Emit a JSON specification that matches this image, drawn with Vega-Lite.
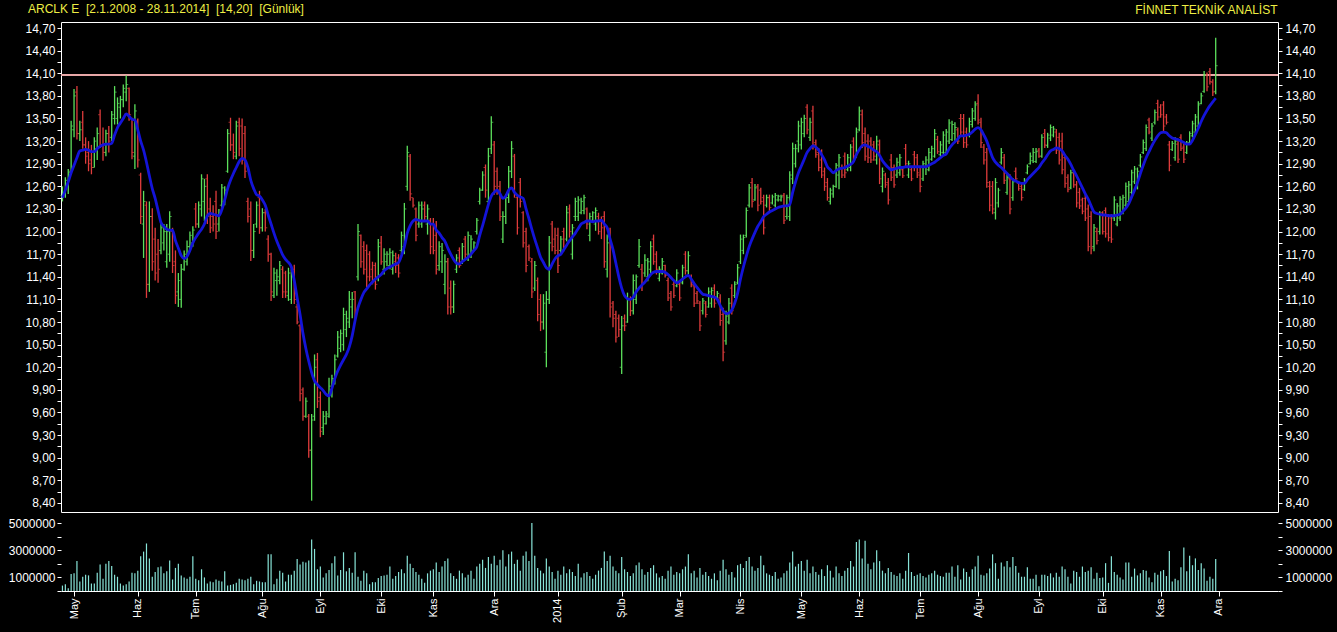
{
"$schema":"https://vega.github.io/schema/vega-lite/v6.json",
"background":"#000000",
"padding":{"left":0,"right":0,"top":2,"bottom":0},
"title":{"text":"FİNNET TEKNİK ANALİST","anchor":"end","frame":"bounds","dx":-61,"dy":14,"offset":0},
"config":{
 "view":{"stroke":null},
 "title":{"color":"#eeee44","font":"Liberation Sans","fontSize":12,"fontWeight":"normal"},
 "axis":{"labelColor":"#ffffff","tickColor":"#ffffff","domainColor":"#ffffff","grid":false,"labelFont":"Liberation Sans","labelFontSize":12,"title":null}
},
"spacing":1,
"datasets":{"p":[
{"d":"2013-04-25","o":12.48,"h":12.6,"l":12.4,"c":12.52,"v":400000,"m":12.45},
{"d":"2013-04-26","o":12.52,"h":12.72,"l":12.45,"c":12.68,"v":500000,"m":12.55},
{"d":"2013-04-29","o":12.62,"h":12.83,"l":12.5,"c":12.78,"v":200000,"m":12.66},
{"d":"2013-04-30","o":12.8,"h":13.47,"l":12.76,"c":13.4,"v":1250000,"m":12.78},
{"d":"2013-05-02","o":13.35,"h":13.89,"l":13.25,"c":13.8,"v":1300000,"m":12.88},
{"d":"2013-05-03","o":13.85,"h":13.93,"l":13.22,"c":13.3,"v":2200000,"m":12.98},
{"d":"2013-05-06","o":13.3,"h":13.47,"l":13.2,"c":13.35,"v":700000,"m":13.07},
{"d":"2013-05-07","o":13.45,"h":13.6,"l":13.1,"c":13.15,"v":1050000,"m":13.08},
{"d":"2013-05-08","o":13.15,"h":13.25,"l":12.9,"c":13.0,"v":1200000,"m":13.09},
{"d":"2013-05-09","o":13.05,"h":13.2,"l":12.8,"c":12.9,"v":1150000,"m":13.08},
{"d":"2013-05-10","o":12.95,"h":13.15,"l":12.76,"c":12.85,"v":550000,"m":13.06},
{"d":"2013-05-13","o":12.85,"h":13.25,"l":12.85,"c":13.2,"v":550000,"m":13.06},
{"d":"2013-05-14","o":13.1,"h":13.38,"l":12.95,"c":13.3,"v":1350000,"m":13.1},
{"d":"2013-05-15","o":13.55,"h":13.62,"l":13.11,"c":13.15,"v":1950000,"m":13.13},
{"d":"2013-05-16","o":13.15,"h":13.38,"l":12.94,"c":13.05,"v":900000,"m":13.15},
{"d":"2013-05-17","o":13.05,"h":13.35,"l":13.0,"c":13.3,"v":2000000,"m":13.16},
{"d":"2013-05-20","o":13.3,"h":13.4,"l":13.05,"c":13.2,"v":2200000,"m":13.16},
{"d":"2013-05-21","o":13.25,"h":13.6,"l":13.2,"c":13.55,"v":1850000,"m":13.17},
{"d":"2013-05-22","o":13.5,"h":13.93,"l":13.42,"c":13.85,"v":1200000,"m":13.28},
{"d":"2013-05-23","o":13.5,"h":13.78,"l":13.42,"c":13.7,"v":1050000,"m":13.38},
{"d":"2013-05-24","o":13.65,"h":13.8,"l":13.5,"c":13.75,"v":550000,"m":13.44},
{"d":"2013-05-27","o":13.75,"h":13.95,"l":13.65,"c":13.9,"v":400000,"m":13.5},
{"d":"2013-05-28","o":13.85,"h":14.07,"l":13.73,"c":13.95,"v":500000,"m":13.56},
{"d":"2013-05-29","o":13.9,"h":13.91,"l":13.47,"c":13.55,"v":700000,"m":13.53},
{"d":"2013-05-30","o":13.5,"h":13.51,"l":12.96,"c":13.05,"v":1350000,"m":13.49},
{"d":"2013-05-31","o":13.0,"h":13.69,"l":12.83,"c":13.6,"v":1300000,"m":13.48},
{"d":"2013-06-03","o":13.45,"h":13.5,"l":12.85,"c":12.95,"v":1500000,"m":13.35},
{"d":"2013-06-04","o":12.75,"h":12.78,"l":12.1,"c":12.2,"v":2550000,"m":13.2},
{"d":"2013-06-05","o":12.1,"h":12.54,"l":11.65,"c":12.4,"v":2900000,"m":13.08},
{"d":"2013-06-06","o":12.35,"h":12.4,"l":11.12,"c":11.3,"v":3500000,"m":12.92},
{"d":"2013-06-07","o":11.3,"h":12.4,"l":11.2,"c":12.2,"v":2400000,"m":12.74},
{"d":"2013-06-10","o":12.2,"h":12.31,"l":11.48,"c":11.6,"v":1050000,"m":12.57},
{"d":"2013-06-11","o":11.9,"h":12.05,"l":11.35,"c":11.45,"v":1400000,"m":12.44},
{"d":"2013-06-12","o":11.7,"h":11.9,"l":11.32,"c":11.5,"v":1750000,"m":12.28},
{"d":"2013-06-13","o":11.75,"h":12.14,"l":11.7,"c":12.05,"v":1800000,"m":12.12},
{"d":"2013-06-14","o":11.85,"h":12.1,"l":11.75,"c":12.0,"v":1300000,"m":12.07},
{"d":"2013-06-17","o":11.6,"h":12.1,"l":11.52,"c":12.0,"v":1450000,"m":12.03},
{"d":"2013-06-18","o":11.7,"h":12.27,"l":11.6,"c":12.2,"v":2250000,"m":12.02},
{"d":"2013-06-19","o":12.0,"h":12.05,"l":11.45,"c":11.55,"v":850000,"m":12.02},
{"d":"2013-06-20","o":11.6,"h":11.75,"l":11.04,"c":11.15,"v":1700000,"m":11.88},
{"d":"2013-06-21","o":11.2,"h":11.45,"l":11.0,"c":11.35,"v":2000000,"m":11.78},
{"d":"2013-06-24","o":11.1,"h":11.57,"l":10.99,"c":11.5,"v":1150000,"m":11.68},
{"d":"2013-06-25","o":11.5,"h":11.75,"l":11.48,"c":11.7,"v":1000000,"m":11.64},
{"d":"2013-06-26","o":11.6,"h":11.88,"l":11.55,"c":11.8,"v":900000,"m":11.67},
{"d":"2013-06-27","o":11.8,"h":12.0,"l":11.74,"c":11.95,"v":1050000,"m":11.75},
{"d":"2013-06-28","o":11.85,"h":12.07,"l":11.8,"c":12.02,"v":2550000,"m":11.85},
{"d":"2013-07-01","o":12.3,"h":12.38,"l":12.05,"c":12.1,"v":900000,"m":11.92},
{"d":"2013-07-02","o":12.1,"h":12.4,"l":12.05,"c":12.35,"v":800000,"m":11.98},
{"d":"2013-07-03","o":12.3,"h":12.76,"l":12.2,"c":12.7,"v":1600000,"m":12.03},
{"d":"2013-07-04","o":12.4,"h":12.7,"l":12.14,"c":12.6,"v":1000000,"m":12.1},
{"d":"2013-07-05","o":12.7,"h":12.76,"l":12.1,"c":12.2,"v":550000,"m":12.21},
{"d":"2013-07-08","o":12.3,"h":12.45,"l":11.98,"c":12.05,"v":700000,"m":12.24},
{"d":"2013-07-09","o":12.2,"h":12.35,"l":12.0,"c":12.1,"v":650000,"m":12.23},
{"d":"2013-07-10","o":12.4,"h":12.54,"l":11.9,"c":12.0,"v":850000,"m":12.22},
{"d":"2013-07-11","o":12.1,"h":12.3,"l":12.0,"c":12.25,"v":750000,"m":12.21},
{"d":"2013-07-12","o":12.35,"h":12.63,"l":12.32,"c":12.58,"v":700000,"m":12.29},
{"d":"2013-07-15","o":12.4,"h":12.6,"l":12.35,"c":12.55,"v":1450000,"m":12.42},
{"d":"2013-07-16","o":12.8,"h":13.36,"l":12.78,"c":13.3,"v":400000,"m":12.57},
{"d":"2013-07-17","o":13.45,"h":13.51,"l":13.07,"c":13.15,"v":450000,"m":12.68},
{"d":"2013-07-18","o":13.15,"h":13.3,"l":12.96,"c":13.05,"v":500000,"m":12.77},
{"d":"2013-07-19","o":13.0,"h":13.47,"l":12.96,"c":13.4,"v":600000,"m":12.85},
{"d":"2013-07-22","o":13.45,"h":13.51,"l":13.0,"c":13.1,"v":900000,"m":12.93},
{"d":"2013-07-23","o":13.4,"h":13.5,"l":12.89,"c":12.95,"v":850000,"m":12.97},
{"d":"2013-07-24","o":13.3,"h":13.4,"l":12.71,"c":12.8,"v":800000,"m":12.95},
{"d":"2013-07-25","o":12.4,"h":12.45,"l":12.12,"c":12.2,"v":900000,"m":12.85},
{"d":"2013-07-26","o":12.3,"h":12.4,"l":11.61,"c":11.75,"v":1050000,"m":12.68},
{"d":"2013-07-29","o":11.75,"h":12.1,"l":11.65,"c":12.0,"v":500000,"m":12.57},
{"d":"2013-07-30","o":12.1,"h":12.4,"l":12.05,"c":12.35,"v":750000,"m":12.49},
{"d":"2013-07-31","o":12.45,"h":12.54,"l":11.97,"c":12.05,"v":700000,"m":12.47},
{"d":"2013-08-01","o":12.05,"h":12.31,"l":12.0,"c":12.25,"v":650000,"m":12.42},
{"d":"2013-08-02","o":12.25,"h":12.3,"l":12.0,"c":12.05,"v":650000,"m":12.35},
{"d":"2013-08-05","o":11.9,"h":11.95,"l":11.6,"c":11.7,"v":2700000,"m":12.22},
{"d":"2013-08-06","o":11.7,"h":11.72,"l":11.08,"c":11.2,"v":2700000,"m":12.1},
{"d":"2013-08-07","o":11.15,"h":11.52,"l":11.12,"c":11.45,"v":500000,"m":11.98},
{"d":"2013-08-08","o":11.35,"h":11.5,"l":11.15,"c":11.4,"v":900000,"m":11.87},
{"d":"2013-08-12","o":11.35,"h":11.61,"l":11.3,"c":11.55,"v":1500000,"m":11.78},
{"d":"2013-08-13","o":11.5,"h":11.54,"l":11.12,"c":11.2,"v":1350000,"m":11.69},
{"d":"2013-08-14","o":11.45,"h":11.48,"l":11.12,"c":11.2,"v":700000,"m":11.63},
{"d":"2013-08-15","o":11.15,"h":11.52,"l":11.08,"c":11.45,"v":1200000,"m":11.59},
{"d":"2013-08-16","o":11.1,"h":11.5,"l":11.04,"c":11.4,"v":1200000,"m":11.53},
{"d":"2013-08-19","o":11.5,"h":11.56,"l":11.04,"c":11.1,"v":1500000,"m":11.35},
{"d":"2013-08-20","o":11.0,"h":11.04,"l":10.77,"c":10.8,"v":2350000,"m":11.12},
{"d":"2013-08-21","o":10.75,"h":10.77,"l":9.75,"c":9.85,"v":1950000,"m":10.9},
{"d":"2013-08-22","o":9.9,"h":9.93,"l":9.49,"c":9.55,"v":2150000,"m":10.65},
{"d":"2013-08-23","o":9.55,"h":9.8,"l":9.53,"c":9.75,"v":2100000,"m":10.45},
{"d":"2013-08-26","o":9.55,"h":9.58,"l":9.0,"c":9.1,"v":2250000,"m":10.28},
{"d":"2013-08-27","o":9.1,"h":9.58,"l":8.43,"c":9.5,"v":3800000,"m":10.13},
{"d":"2013-08-28","o":9.55,"h":10.37,"l":9.49,"c":10.2,"v":3100000,"m":10.02},
{"d":"2013-08-29","o":10.3,"h":10.39,"l":9.66,"c":9.75,"v":1600000,"m":9.97},
{"d":"2013-09-02","o":9.8,"h":9.88,"l":9.27,"c":9.35,"v":1800000,"m":9.93},
{"d":"2013-09-03","o":9.4,"h":9.62,"l":9.3,"c":9.55,"v":1000000,"m":9.89},
{"d":"2013-09-04","o":9.45,"h":9.62,"l":9.44,"c":9.58,"v":1300000,"m":9.84},
{"d":"2013-09-05","o":9.55,"h":10.06,"l":9.53,"c":9.95,"v":1550000,"m":9.82},
{"d":"2013-09-06","o":9.9,"h":10.1,"l":9.8,"c":10.05,"v":2050000,"m":9.92},
{"d":"2013-09-09","o":10.0,"h":10.37,"l":9.97,"c":10.3,"v":2550000,"m":10.05},
{"d":"2013-09-10","o":10.35,"h":10.68,"l":10.33,"c":10.6,"v":1150000,"m":10.15},
{"d":"2013-09-11","o":10.45,"h":10.7,"l":10.4,"c":10.65,"v":1550000,"m":10.23},
{"d":"2013-09-12","o":10.5,"h":10.99,"l":10.42,"c":10.9,"v":2850000,"m":10.3},
{"d":"2013-09-13","o":10.7,"h":10.95,"l":10.6,"c":10.85,"v":1450000,"m":10.37},
{"d":"2013-09-16","o":10.8,"h":11.21,"l":10.72,"c":11.1,"v":1700000,"m":10.47},
{"d":"2013-09-17","o":11.0,"h":11.2,"l":10.85,"c":11.1,"v":1350000,"m":10.62},
{"d":"2013-09-18","o":11.2,"h":11.21,"l":10.81,"c":10.9,"v":2850000,"m":10.82},
{"d":"2013-09-19","o":11.4,"h":12.1,"l":11.35,"c":12.0,"v":1050000,"m":10.99},
{"d":"2013-09-20","o":11.95,"h":11.96,"l":11.52,"c":11.6,"v":750000,"m":11.1},
{"d":"2013-09-23","o":11.8,"h":11.87,"l":11.43,"c":11.5,"v":1500000,"m":11.19},
{"d":"2013-09-24","o":11.75,"h":11.83,"l":11.26,"c":11.4,"v":1300000,"m":11.24},
{"d":"2013-09-25","o":11.7,"h":11.74,"l":11.34,"c":11.4,"v":500000,"m":11.29},
{"d":"2013-09-26","o":11.5,"h":11.6,"l":11.3,"c":11.35,"v":650000,"m":11.33},
{"d":"2013-09-27","o":11.55,"h":11.59,"l":11.23,"c":11.3,"v":650000,"m":11.37},
{"d":"2013-09-30","o":11.4,"h":11.9,"l":11.34,"c":11.8,"v":950000,"m":11.4},
{"d":"2013-10-01","o":11.85,"h":11.94,"l":11.56,"c":11.6,"v":1100000,"m":11.43},
{"d":"2013-10-02","o":11.5,"h":11.78,"l":11.43,"c":11.7,"v":1150000,"m":11.48},
{"d":"2013-10-03","o":11.6,"h":11.74,"l":11.54,"c":11.7,"v":1200000,"m":11.51},
{"d":"2013-10-04","o":11.55,"h":11.78,"l":11.5,"c":11.72,"v":1800000,"m":11.53},
{"d":"2013-10-07","o":11.5,"h":11.75,"l":11.43,"c":11.68,"v":900000,"m":11.55},
{"d":"2013-10-08","o":11.6,"h":11.72,"l":11.45,"c":11.55,"v":1100000,"m":11.57},
{"d":"2013-10-09","o":11.65,"h":11.7,"l":11.39,"c":11.45,"v":1400000,"m":11.59},
{"d":"2013-10-10","o":11.75,"h":12.0,"l":11.7,"c":11.95,"v":1600000,"m":11.68},
{"d":"2013-10-11","o":11.8,"h":12.38,"l":11.7,"c":12.3,"v":1300000,"m":11.8},
{"d":"2013-10-14","o":12.6,"h":13.14,"l":12.54,"c":13.05,"v":2600000,"m":11.98},
{"d":"2013-10-21","o":13.0,"h":13.03,"l":12.41,"c":12.5,"v":2000000,"m":12.08},
{"d":"2013-10-22","o":12.45,"h":12.45,"l":12.32,"c":12.35,"v":1700000,"m":12.14},
{"d":"2013-10-23","o":12.3,"h":12.32,"l":11.87,"c":11.95,"v":1400000,"m":12.16},
{"d":"2013-10-24","o":12.1,"h":12.4,"l":12.05,"c":12.35,"v":1200000,"m":12.15},
{"d":"2013-10-25","o":12.1,"h":12.4,"l":12.05,"c":12.3,"v":900000,"m":12.14},
{"d":"2013-10-28","o":12.35,"h":12.4,"l":12.14,"c":12.2,"v":600000,"m":12.14},
{"d":"2013-10-30","o":12.1,"h":12.36,"l":11.96,"c":12.3,"v":1300000,"m":12.14},
{"d":"2013-10-31","o":12.15,"h":12.18,"l":11.7,"c":11.8,"v":1500000,"m":12.1},
{"d":"2013-11-01","o":12.1,"h":12.18,"l":11.7,"c":11.75,"v":1600000,"m":12.1},
{"d":"2013-11-04","o":11.95,"h":12.14,"l":11.43,"c":11.5,"v":2100000,"m":12.02},
{"d":"2013-11-05","o":11.55,"h":11.87,"l":11.48,"c":11.8,"v":1400000,"m":11.98},
{"d":"2013-11-06","o":11.6,"h":11.85,"l":11.45,"c":11.75,"v":1800000,"m":11.92},
{"d":"2013-11-07","o":11.3,"h":11.7,"l":11.17,"c":11.6,"v":2200000,"m":11.87},
{"d":"2013-11-08","o":11.6,"h":11.65,"l":10.9,"c":11.0,"v":2400000,"m":11.78},
{"d":"2013-11-11","o":11.25,"h":11.35,"l":10.9,"c":11.0,"v":1300000,"m":11.7},
{"d":"2013-11-12","o":11.0,"h":11.35,"l":10.92,"c":11.3,"v":1100000,"m":11.63},
{"d":"2013-11-13","o":11.5,"h":11.7,"l":11.45,"c":11.65,"v":900000,"m":11.58},
{"d":"2013-11-14","o":11.75,"h":11.79,"l":11.52,"c":11.55,"v":1500000,"m":11.57},
{"d":"2013-11-15","o":11.6,"h":11.85,"l":11.57,"c":11.8,"v":1300000,"m":11.6},
{"d":"2013-11-18","o":11.9,"h":11.94,"l":11.63,"c":11.7,"v":1000000,"m":11.63},
{"d":"2013-11-19","o":11.65,"h":12.0,"l":11.61,"c":11.95,"v":1200000,"m":11.66},
{"d":"2013-11-20","o":11.7,"h":11.95,"l":11.65,"c":11.9,"v":1500000,"m":11.7},
{"d":"2013-11-21","o":11.75,"h":11.87,"l":11.74,"c":11.85,"v":900000,"m":11.75},
{"d":"2013-11-22","o":12.0,"h":12.18,"l":11.96,"c":12.15,"v":1800000,"m":11.8},
{"d":"2013-11-25","o":12.4,"h":12.58,"l":12.36,"c":12.55,"v":2000000,"m":11.95},
{"d":"2013-11-26","o":12.55,"h":12.8,"l":12.54,"c":12.75,"v":2300000,"m":12.08},
{"d":"2013-11-27","o":12.85,"h":12.89,"l":12.45,"c":12.55,"v":1700000,"m":12.22},
{"d":"2013-11-28","o":12.4,"h":13.11,"l":12.38,"c":13.0,"v":2500000,"m":12.36},
{"d":"2013-11-29","o":13.1,"h":13.53,"l":13.03,"c":13.45,"v":2000000,"m":12.47},
{"d":"2013-12-02","o":13.15,"h":13.2,"l":12.49,"c":12.6,"v":2600000,"m":12.52},
{"d":"2013-12-03","o":12.8,"h":12.85,"l":12.49,"c":12.55,"v":1900000,"m":12.55},
{"d":"2013-12-04","o":12.6,"h":12.67,"l":12.14,"c":12.2,"v":2300000,"m":12.5},
{"d":"2013-12-05","o":11.9,"h":12.27,"l":11.85,"c":12.2,"v":3000000,"m":12.44},
{"d":"2013-12-06","o":12.2,"h":12.5,"l":12.1,"c":12.45,"v":1800000,"m":12.47},
{"d":"2013-12-09","o":12.45,"h":12.87,"l":12.38,"c":12.8,"v":2700000,"m":12.55},
{"d":"2013-12-10","o":12.8,"h":13.2,"l":12.71,"c":13.1,"v":2900000,"m":12.58},
{"d":"2013-12-11","o":13.0,"h":13.03,"l":12.45,"c":12.5,"v":2000000,"m":12.52},
{"d":"2013-12-12","o":12.45,"h":12.49,"l":11.96,"c":12.05,"v":2300000,"m":12.48},
{"d":"2013-12-13","o":12.65,"h":12.71,"l":12.32,"c":12.4,"v":1500000,"m":12.46},
{"d":"2013-12-16","o":12.25,"h":12.27,"l":11.79,"c":11.85,"v":2600000,"m":12.44},
{"d":"2013-12-17","o":12.0,"h":12.05,"l":11.46,"c":11.55,"v":2900000,"m":12.3},
{"d":"2013-12-18","o":11.8,"h":11.83,"l":11.61,"c":11.65,"v":2200000,"m":12.17},
{"d":"2013-12-19","o":11.6,"h":11.65,"l":11.12,"c":11.2,"v":5000000,"m":12.03},
{"d":"2013-12-20","o":11.25,"h":11.61,"l":11.21,"c":11.55,"v":2600000,"m":11.9},
{"d":"2013-12-23","o":11.35,"h":11.39,"l":10.81,"c":10.9,"v":1700000,"m":11.78},
{"d":"2013-12-24","o":11.1,"h":11.17,"l":10.68,"c":10.8,"v":1500000,"m":11.66},
{"d":"2013-12-25","o":10.8,"h":11.17,"l":10.7,"c":11.05,"v":1300000,"m":11.59},
{"d":"2013-12-26","o":10.4,"h":11.21,"l":10.2,"c":11.1,"v":2400000,"m":11.52},
{"d":"2013-12-27","o":11.1,"h":11.94,"l":11.04,"c":11.85,"v":1800000,"m":11.5},
{"d":"2013-12-30","o":12.1,"h":12.14,"l":11.74,"c":11.8,"v":1400000,"m":11.57},
{"d":"2013-12-31","o":11.9,"h":12.05,"l":11.7,"c":11.75,"v":900000,"m":11.64},
{"d":"2014-01-02","o":11.95,"h":12.05,"l":11.45,"c":11.55,"v":1500000,"m":11.68},
{"d":"2014-01-03","o":11.75,"h":11.94,"l":11.7,"c":11.9,"v":1200000,"m":11.7},
{"d":"2014-01-06","o":12.0,"h":12.05,"l":11.74,"c":11.8,"v":1800000,"m":11.76},
{"d":"2014-01-07","o":11.9,"h":12.34,"l":11.87,"c":12.25,"v":1300000,"m":11.82},
{"d":"2014-01-08","o":12.3,"h":12.36,"l":11.92,"c":12.0,"v":1600000,"m":11.88},
{"d":"2014-01-09","o":11.7,"h":12.1,"l":11.63,"c":12.05,"v":1400000,"m":11.93},
{"d":"2014-01-10","o":12.2,"h":12.45,"l":12.14,"c":12.4,"v":1100000,"m":11.98},
{"d":"2014-01-13","o":12.2,"h":12.47,"l":12.14,"c":12.42,"v":2000000,"m":12.04},
{"d":"2014-01-14","o":12.25,"h":12.45,"l":12.23,"c":12.4,"v":1000000,"m":12.1},
{"d":"2014-01-15","o":12.28,"h":12.49,"l":12.23,"c":12.45,"v":1300000,"m":12.12},
{"d":"2014-01-16","o":12.3,"h":12.32,"l":12.03,"c":12.1,"v":1400000,"m":12.14},
{"d":"2014-01-17","o":11.95,"h":12.25,"l":11.87,"c":12.2,"v":1100000,"m":12.14},
{"d":"2014-01-20","o":12.15,"h":12.27,"l":12.12,"c":12.25,"v":900000,"m":12.13},
{"d":"2014-01-21","o":12.1,"h":12.32,"l":12.01,"c":12.28,"v":1200000,"m":12.14},
{"d":"2014-01-22","o":12.2,"h":12.25,"l":11.96,"c":12.0,"v":1500000,"m":12.14},
{"d":"2014-01-23","o":12.15,"h":12.2,"l":11.9,"c":12.05,"v":1700000,"m":12.15},
{"d":"2014-01-24","o":12.2,"h":12.27,"l":11.52,"c":11.6,"v":2900000,"m":12.1},
{"d":"2014-01-27","o":11.5,"h":11.96,"l":11.39,"c":11.85,"v":2200000,"m":12.05},
{"d":"2014-01-28","o":11.95,"h":12.05,"l":10.86,"c":11.0,"v":2600000,"m":11.9},
{"d":"2014-01-29","o":11.05,"h":11.08,"l":10.73,"c":10.85,"v":1800000,"m":11.76},
{"d":"2014-01-30","o":10.9,"h":10.95,"l":10.53,"c":10.6,"v":1500000,"m":11.58},
{"d":"2014-01-31","o":10.85,"h":10.9,"l":10.6,"c":10.7,"v":1300000,"m":11.4},
{"d":"2014-02-03","o":10.2,"h":10.88,"l":10.11,"c":10.75,"v":2500000,"m":11.25},
{"d":"2014-02-04","o":10.85,"h":10.9,"l":10.68,"c":10.75,"v":1600000,"m":11.15},
{"d":"2014-02-05","o":10.8,"h":11.19,"l":10.79,"c":11.1,"v":1400000,"m":11.11},
{"d":"2014-02-06","o":11.1,"h":11.14,"l":10.88,"c":10.95,"v":1100000,"m":11.1},
{"d":"2014-02-07","o":10.95,"h":11.43,"l":10.9,"c":11.35,"v":1300000,"m":11.13},
{"d":"2014-02-10","o":11.1,"h":11.43,"l":11.04,"c":11.4,"v":1900000,"m":11.2},
{"d":"2014-02-11","o":11.55,"h":11.9,"l":11.52,"c":11.8,"v":2100000,"m":11.25},
{"d":"2014-02-12","o":11.5,"h":11.57,"l":11.21,"c":11.3,"v":1600000,"m":11.29},
{"d":"2014-02-13","o":11.45,"h":11.7,"l":11.4,"c":11.62,"v":1200000,"m":11.33},
{"d":"2014-02-14","o":11.4,"h":11.65,"l":11.34,"c":11.6,"v":1400000,"m":11.38},
{"d":"2014-02-17","o":11.5,"h":11.87,"l":11.43,"c":11.8,"v":1700000,"m":11.43},
{"d":"2014-02-18","o":11.9,"h":11.96,"l":11.56,"c":11.6,"v":1900000,"m":11.46},
{"d":"2014-02-19","o":11.7,"h":11.74,"l":11.43,"c":11.5,"v":1300000,"m":11.47},
{"d":"2014-02-20","o":11.38,"h":11.54,"l":11.34,"c":11.5,"v":1000000,"m":11.47},
{"d":"2014-02-21","o":11.45,"h":11.65,"l":11.43,"c":11.6,"v":1100000,"m":11.47},
{"d":"2014-02-24","o":11.55,"h":11.56,"l":11.39,"c":11.42,"v":900000,"m":11.46},
{"d":"2014-02-25","o":11.35,"h":11.39,"l":11.08,"c":11.12,"v":1500000,"m":11.43},
{"d":"2014-02-26","o":11.18,"h":11.21,"l":10.95,"c":11.0,"v":1800000,"m":11.39},
{"d":"2014-02-27","o":11.3,"h":11.34,"l":11.12,"c":11.15,"v":1200000,"m":11.35},
{"d":"2014-02-28","o":11.28,"h":11.5,"l":11.26,"c":11.45,"v":1400000,"m":11.32},
{"d":"2014-03-03","o":11.3,"h":11.34,"l":11.08,"c":11.12,"v":1300000,"m":11.34},
{"d":"2014-03-04","o":11.32,"h":11.56,"l":11.3,"c":11.52,"v":1600000,"m":11.37},
{"d":"2014-03-05","o":11.7,"h":11.74,"l":11.43,"c":11.48,"v":1800000,"m":11.4},
{"d":"2014-03-06","o":11.48,"h":11.74,"l":11.43,"c":11.68,"v":2700000,"m":11.42},
{"d":"2014-03-07","o":11.4,"h":11.43,"l":11.26,"c":11.3,"v":1300000,"m":11.37},
{"d":"2014-03-10","o":11.28,"h":11.3,"l":11.0,"c":11.05,"v":1500000,"m":11.31},
{"d":"2014-03-11","o":11.18,"h":11.21,"l":11.04,"c":11.08,"v":1000000,"m":11.26},
{"d":"2014-03-12","o":11.05,"h":11.08,"l":10.68,"c":10.75,"v":1700000,"m":11.21},
{"d":"2014-03-13","o":10.95,"h":11.12,"l":10.9,"c":11.08,"v":1200000,"m":11.17},
{"d":"2014-03-14","o":11.05,"h":11.08,"l":10.86,"c":10.9,"v":1400000,"m":11.16},
{"d":"2014-03-17","o":11.0,"h":11.26,"l":10.99,"c":11.2,"v":1100000,"m":11.15},
{"d":"2014-03-18","o":11.05,"h":11.26,"l":10.99,"c":11.22,"v":900000,"m":11.14},
{"d":"2014-03-19","o":11.25,"h":11.3,"l":10.99,"c":11.05,"v":1300000,"m":11.13},
{"d":"2014-03-20","o":11.13,"h":11.21,"l":11.12,"c":11.18,"v":800000,"m":11.1},
{"d":"2014-03-21","o":11.12,"h":11.17,"l":10.75,"c":10.82,"v":1500000,"m":11.02},
{"d":"2014-03-24","o":10.9,"h":10.99,"l":10.28,"c":10.4,"v":2300000,"m":10.95},
{"d":"2014-03-25","o":10.55,"h":10.95,"l":10.5,"c":10.88,"v":1600000,"m":10.91},
{"d":"2014-03-26","o":10.8,"h":11.12,"l":10.77,"c":11.05,"v":1200000,"m":10.92},
{"d":"2014-03-27","o":11.25,"h":11.3,"l":10.9,"c":10.95,"v":1400000,"m":10.96},
{"d":"2014-03-28","o":11.15,"h":11.34,"l":11.12,"c":11.3,"v":1000000,"m":11.05},
{"d":"2014-03-31","o":11.32,"h":11.57,"l":11.3,"c":11.52,"v":1900000,"m":11.18},
{"d":"2014-04-01","o":11.6,"h":11.96,"l":11.57,"c":11.9,"v":2000000,"m":11.37},
{"d":"2014-04-02","o":11.75,"h":11.96,"l":11.7,"c":11.92,"v":1700000,"m":11.53},
{"d":"2014-04-03","o":11.95,"h":12.32,"l":11.92,"c":12.28,"v":2200000,"m":11.67},
{"d":"2014-04-04","o":12.35,"h":12.63,"l":12.32,"c":12.58,"v":2500000,"m":11.8},
{"d":"2014-04-07","o":12.65,"h":12.71,"l":12.32,"c":12.4,"v":1800000,"m":11.9},
{"d":"2014-04-08","o":12.42,"h":12.63,"l":12.41,"c":12.58,"v":1500000,"m":11.99},
{"d":"2014-04-09","o":12.6,"h":12.63,"l":12.27,"c":12.35,"v":1700000,"m":12.07},
{"d":"2014-04-10","o":12.55,"h":12.58,"l":12.36,"c":12.4,"v":2600000,"m":12.13},
{"d":"2014-04-11","o":12.45,"h":12.49,"l":11.96,"c":12.05,"v":1900000,"m":12.2},
{"d":"2014-04-14","o":12.35,"h":12.49,"l":12.32,"c":12.45,"v":1300000,"m":12.23},
{"d":"2014-04-15","o":12.45,"h":12.49,"l":12.27,"c":12.32,"v":1200000,"m":12.26},
{"d":"2014-04-16","o":12.38,"h":12.49,"l":12.36,"c":12.46,"v":1100000,"m":12.28},
{"d":"2014-04-17","o":12.35,"h":12.51,"l":12.32,"c":12.48,"v":1400000,"m":12.3},
{"d":"2014-04-18","o":12.42,"h":12.49,"l":12.4,"c":12.47,"v":900000,"m":12.32},
{"d":"2014-04-21","o":12.42,"h":12.49,"l":12.4,"c":12.46,"v":1000000,"m":12.33},
{"d":"2014-04-22","o":12.48,"h":12.51,"l":12.1,"c":12.15,"v":1300000,"m":12.34},
{"d":"2014-04-24","o":12.2,"h":12.49,"l":12.16,"c":12.45,"v":1500000,"m":12.34},
{"d":"2014-04-25","o":12.2,"h":12.8,"l":12.14,"c":12.75,"v":2100000,"m":12.36},
{"d":"2014-04-28","o":12.7,"h":13.18,"l":12.63,"c":13.1,"v":2900000,"m":12.52},
{"d":"2014-04-29","o":12.9,"h":13.16,"l":12.85,"c":13.1,"v":1800000,"m":12.66},
{"d":"2014-04-30","o":13.2,"h":13.47,"l":13.05,"c":13.4,"v":2000000,"m":12.78},
{"d":"2014-05-02","o":13.15,"h":13.51,"l":13.09,"c":13.45,"v":2200000,"m":12.87},
{"d":"2014-05-05","o":13.3,"h":13.55,"l":13.25,"c":13.5,"v":1500000,"m":12.96},
{"d":"2014-05-06","o":13.65,"h":13.69,"l":13.29,"c":13.35,"v":2300000,"m":13.05},
{"d":"2014-05-07","o":13.25,"h":13.51,"l":13.2,"c":13.45,"v":1300000,"m":13.1},
{"d":"2014-05-08","o":13.6,"h":13.67,"l":13.09,"c":13.15,"v":1800000,"m":13.14},
{"d":"2014-05-09","o":13.18,"h":13.22,"l":12.98,"c":13.02,"v":1400000,"m":13.12},
{"d":"2014-05-12","o":13.05,"h":13.11,"l":12.8,"c":12.85,"v":1200000,"m":13.08},
{"d":"2014-05-13","o":12.95,"h":13.09,"l":12.71,"c":12.75,"v":1600000,"m":13.02},
{"d":"2014-05-14","o":12.8,"h":12.85,"l":12.54,"c":12.6,"v":1100000,"m":12.95},
{"d":"2014-05-15","o":12.65,"h":12.71,"l":12.41,"c":12.45,"v":1900000,"m":12.86},
{"d":"2014-05-16","o":12.4,"h":12.58,"l":12.36,"c":12.55,"v":1500000,"m":12.82},
{"d":"2014-05-20","o":12.5,"h":12.62,"l":12.45,"c":12.6,"v":1000000,"m":12.78},
{"d":"2014-05-21","o":12.6,"h":12.91,"l":12.58,"c":12.88,"v":1800000,"m":12.81},
{"d":"2014-05-22","o":12.75,"h":13.03,"l":12.56,"c":12.98,"v":1300000,"m":12.83},
{"d":"2014-05-23","o":12.85,"h":12.89,"l":12.71,"c":12.75,"v":1100000,"m":12.84},
{"d":"2014-05-26","o":13.0,"h":13.05,"l":12.71,"c":12.78,"v":1500000,"m":12.85},
{"d":"2014-05-27","o":12.82,"h":13.03,"l":12.8,"c":12.98,"v":1700000,"m":12.87},
{"d":"2014-05-28","o":12.85,"h":13.16,"l":12.8,"c":13.12,"v":2200000,"m":12.89},
{"d":"2014-05-29","o":13.2,"h":13.25,"l":12.94,"c":13.0,"v":1800000,"m":12.93},
{"d":"2014-05-30","o":13.0,"h":13.38,"l":12.98,"c":13.32,"v":3600000,"m":13.02},
{"d":"2014-06-02","o":13.35,"h":13.66,"l":13.33,"c":13.6,"v":3800000,"m":13.09},
{"d":"2014-06-03","o":13.55,"h":13.62,"l":13.11,"c":13.18,"v":2400000,"m":13.14},
{"d":"2014-06-04","o":13.3,"h":13.38,"l":12.94,"c":13.0,"v":3700000,"m":13.15},
{"d":"2014-06-05","o":13.2,"h":13.29,"l":12.91,"c":12.98,"v":2000000,"m":13.13},
{"d":"2014-06-06","o":13.2,"h":13.25,"l":12.91,"c":12.95,"v":1600000,"m":13.11},
{"d":"2014-06-09","o":13.15,"h":13.2,"l":12.94,"c":13.0,"v":2100000,"m":13.08},
{"d":"2014-06-10","o":12.95,"h":13.27,"l":12.89,"c":13.2,"v":3000000,"m":13.06},
{"d":"2014-06-11","o":13.15,"h":13.22,"l":12.63,"c":12.7,"v":2200000,"m":13.01},
{"d":"2014-06-12","o":12.6,"h":12.85,"l":12.52,"c":12.8,"v":1500000,"m":12.94},
{"d":"2014-06-13","o":12.75,"h":12.78,"l":12.58,"c":12.62,"v":1300000,"m":12.89},
{"d":"2014-06-16","o":12.65,"h":12.71,"l":12.36,"c":12.42,"v":1700000,"m":12.85},
{"d":"2014-06-17","o":12.95,"h":13.03,"l":12.67,"c":12.72,"v":1400000,"m":12.82},
{"d":"2014-06-18","o":12.85,"h":12.89,"l":12.58,"c":12.62,"v":1200000,"m":12.83},
{"d":"2014-06-19","o":12.75,"h":12.98,"l":12.71,"c":12.92,"v":1100000,"m":12.84},
{"d":"2014-06-20","o":12.78,"h":13.03,"l":12.74,"c":12.98,"v":1300000,"m":12.85},
{"d":"2014-06-23","o":12.82,"h":12.85,"l":12.71,"c":12.74,"v":900000,"m":12.85},
{"d":"2014-06-24","o":13.1,"h":13.16,"l":12.85,"c":12.9,"v":1500000,"m":12.86},
{"d":"2014-06-25","o":12.75,"h":12.94,"l":12.71,"c":12.9,"v":2800000,"m":12.86},
{"d":"2014-06-26","o":12.82,"h":12.85,"l":12.67,"c":12.7,"v":1400000,"m":12.86},
{"d":"2014-06-27","o":13.02,"h":13.07,"l":12.8,"c":12.85,"v":1100000,"m":12.86},
{"d":"2014-06-30","o":12.98,"h":13.03,"l":12.71,"c":12.78,"v":1200000,"m":12.86},
{"d":"2014-07-01","o":12.75,"h":12.85,"l":12.52,"c":12.6,"v":1300000,"m":12.86},
{"d":"2014-07-02","o":12.7,"h":12.94,"l":12.67,"c":12.9,"v":1100000,"m":12.86},
{"d":"2014-07-03","o":12.85,"h":13.0,"l":12.75,"c":12.95,"v":1000000,"m":12.86},
{"d":"2014-07-04","o":12.82,"h":13.11,"l":12.8,"c":13.05,"v":1200000,"m":12.88},
{"d":"2014-07-07","o":12.96,"h":13.14,"l":12.94,"c":13.1,"v":1300000,"m":12.9},
{"d":"2014-07-08","o":13.0,"h":13.36,"l":12.98,"c":13.3,"v":1500000,"m":12.92},
{"d":"2014-07-09","o":13.22,"h":13.27,"l":13.03,"c":13.06,"v":1200000,"m":12.95},
{"d":"2014-07-10","o":13.02,"h":13.2,"l":13.0,"c":13.15,"v":1100000,"m":12.98},
{"d":"2014-07-11","o":13.05,"h":13.33,"l":13.03,"c":13.28,"v":1050000,"m":13.01},
{"d":"2014-07-14","o":13.05,"h":13.36,"l":13.03,"c":13.32,"v":1350000,"m":13.03},
{"d":"2014-07-15","o":13.2,"h":13.49,"l":13.16,"c":13.44,"v":1350000,"m":13.1},
{"d":"2014-07-16","o":13.22,"h":13.47,"l":13.2,"c":13.42,"v":1800000,"m":13.15},
{"d":"2014-07-17","o":13.3,"h":13.45,"l":13.2,"c":13.38,"v":1050000,"m":13.19},
{"d":"2014-07-18","o":13.35,"h":13.38,"l":13.16,"c":13.2,"v":1900000,"m":13.23},
{"d":"2014-07-21","o":13.5,"h":13.56,"l":13.27,"c":13.32,"v":850000,"m":13.27},
{"d":"2014-07-22","o":13.5,"h":13.56,"l":13.11,"c":13.18,"v":1650000,"m":13.27},
{"d":"2014-07-23","o":13.32,"h":13.38,"l":13.11,"c":13.15,"v":1400000,"m":13.28},
{"d":"2014-07-24","o":13.28,"h":13.51,"l":13.25,"c":13.46,"v":1050000,"m":13.29},
{"d":"2014-07-25","o":13.42,"h":13.64,"l":13.38,"c":13.6,"v":1600000,"m":13.32},
{"d":"2014-07-31","o":13.5,"h":13.73,"l":13.47,"c":13.68,"v":1800000,"m":13.36},
{"d":"2014-08-01","o":13.7,"h":13.82,"l":13.42,"c":13.48,"v":2600000,"m":13.38},
{"d":"2014-08-04","o":13.45,"h":13.51,"l":13.11,"c":13.18,"v":1200000,"m":13.35},
{"d":"2014-08-05","o":13.12,"h":13.16,"l":12.89,"c":12.95,"v":1150000,"m":13.28},
{"d":"2014-08-06","o":13.05,"h":13.11,"l":12.58,"c":12.65,"v":1300000,"m":13.2},
{"d":"2014-08-07","o":12.6,"h":12.67,"l":12.27,"c":12.35,"v":1650000,"m":13.09},
{"d":"2014-08-08","o":12.6,"h":12.67,"l":12.23,"c":12.3,"v":2700000,"m":12.98},
{"d":"2014-08-11","o":12.25,"h":12.71,"l":12.16,"c":12.65,"v":2050000,"m":12.92},
{"d":"2014-08-12","o":12.38,"h":12.58,"l":12.32,"c":12.55,"v":900000,"m":12.88},
{"d":"2014-08-13","o":12.92,"h":13.11,"l":12.89,"c":13.05,"v":2100000,"m":12.85},
{"d":"2014-08-14","o":12.98,"h":13.03,"l":12.63,"c":12.68,"v":1800000,"m":12.81},
{"d":"2014-08-15","o":12.52,"h":12.76,"l":12.49,"c":12.72,"v":2200000,"m":12.77},
{"d":"2014-08-18","o":12.7,"h":12.76,"l":12.23,"c":12.3,"v":1750000,"m":12.73},
{"d":"2014-08-19","o":12.45,"h":12.71,"l":12.41,"c":12.66,"v":2500000,"m":12.69},
{"d":"2014-08-20","o":12.8,"h":12.85,"l":12.67,"c":12.7,"v":1850000,"m":12.67},
{"d":"2014-08-21","o":12.64,"h":12.67,"l":12.54,"c":12.57,"v":1350000,"m":12.65},
{"d":"2014-08-22","o":12.6,"h":12.65,"l":12.41,"c":12.45,"v":1050000,"m":12.64},
{"d":"2014-08-25","o":12.56,"h":12.71,"l":12.54,"c":12.68,"v":1050000,"m":12.64},
{"d":"2014-08-26","o":12.78,"h":12.89,"l":12.76,"c":12.86,"v":1750000,"m":12.69},
{"d":"2014-08-27","o":12.9,"h":13.05,"l":12.89,"c":13.0,"v":900000,"m":12.73},
{"d":"2014-08-28","o":12.94,"h":13.11,"l":12.91,"c":13.05,"v":900000,"m":12.77},
{"d":"2014-08-29","o":12.93,"h":13.11,"l":12.91,"c":13.06,"v":1200000,"m":12.81},
{"d":"2014-09-01","o":13.08,"h":13.11,"l":12.98,"c":13.0,"v":350000,"m":12.85},
{"d":"2014-09-02","o":13.0,"h":13.29,"l":12.98,"c":13.25,"v":1200000,"m":12.91},
{"d":"2014-09-03","o":13.3,"h":13.36,"l":13.11,"c":13.15,"v":1200000,"m":12.96},
{"d":"2014-09-04","o":13.14,"h":13.31,"l":13.11,"c":13.28,"v":1100000,"m":13.02},
{"d":"2014-09-05","o":13.24,"h":13.42,"l":13.2,"c":13.38,"v":1300000,"m":13.07},
{"d":"2014-09-08","o":13.28,"h":13.4,"l":13.25,"c":13.36,"v":1000000,"m":13.09},
{"d":"2014-09-09","o":13.32,"h":13.36,"l":13.03,"c":13.08,"v":1350000,"m":13.11},
{"d":"2014-09-10","o":13.25,"h":13.31,"l":12.89,"c":12.95,"v":1050000,"m":13.1},
{"d":"2014-09-11","o":13.2,"h":13.31,"l":12.76,"c":12.82,"v":1800000,"m":13.07},
{"d":"2014-09-12","o":12.98,"h":13.03,"l":12.58,"c":12.64,"v":1600000,"m":13.01},
{"d":"2014-09-15","o":12.72,"h":12.76,"l":12.52,"c":12.56,"v":1050000,"m":12.96},
{"d":"2014-09-16","o":12.58,"h":12.82,"l":12.56,"c":12.78,"v":550000,"m":12.89},
{"d":"2014-09-17","o":12.78,"h":12.82,"l":12.58,"c":12.62,"v":1500000,"m":12.81},
{"d":"2014-09-18","o":12.62,"h":12.67,"l":12.32,"c":12.38,"v":1400000,"m":12.74},
{"d":"2014-09-19","o":12.52,"h":12.58,"l":12.3,"c":12.34,"v":1050000,"m":12.66},
{"d":"2014-09-22","o":12.42,"h":12.45,"l":12.23,"c":12.27,"v":1800000,"m":12.58},
{"d":"2014-09-23","o":12.44,"h":12.49,"l":12.14,"c":12.18,"v":1400000,"m":12.5},
{"d":"2014-09-24","o":12.3,"h":12.36,"l":11.74,"c":11.8,"v":1500000,"m":12.43},
{"d":"2014-09-25","o":12.2,"h":12.27,"l":11.7,"c":11.78,"v":1750000,"m":12.34},
{"d":"2014-09-26","o":11.8,"h":12.1,"l":11.74,"c":12.05,"v":900000,"m":12.26},
{"d":"2014-09-29","o":12.0,"h":12.05,"l":11.83,"c":11.88,"v":1350000,"m":12.24},
{"d":"2014-09-30","o":12.0,"h":12.27,"l":11.96,"c":12.22,"v":950000,"m":12.23},
{"d":"2014-10-01","o":12.25,"h":12.27,"l":11.96,"c":12.0,"v":1000000,"m":12.22},
{"d":"2014-10-02","o":12.28,"h":12.32,"l":11.92,"c":11.97,"v":2050000,"m":12.22},
{"d":"2014-10-03","o":12.2,"h":12.23,"l":11.87,"c":11.92,"v":600000,"m":12.21},
{"d":"2014-10-08","o":12.18,"h":12.23,"l":11.85,"c":11.9,"v":2550000,"m":12.21},
{"d":"2014-10-09","o":12.18,"h":12.47,"l":12.14,"c":12.42,"v":1400000,"m":12.21},
{"d":"2014-10-10","o":12.1,"h":12.38,"l":12.07,"c":12.34,"v":1200000,"m":12.22},
{"d":"2014-10-13","o":12.18,"h":12.47,"l":12.14,"c":12.43,"v":1000000,"m":12.23},
{"d":"2014-10-14","o":12.26,"h":12.49,"l":12.23,"c":12.45,"v":850000,"m":12.27},
{"d":"2014-10-15","o":12.35,"h":12.65,"l":12.32,"c":12.6,"v":2100000,"m":12.31},
{"d":"2014-10-16","o":12.4,"h":12.67,"l":12.36,"c":12.62,"v":2100000,"m":12.37},
{"d":"2014-10-17","o":12.52,"h":12.82,"l":12.49,"c":12.78,"v":1050000,"m":12.46},
{"d":"2014-10-20","o":12.66,"h":12.87,"l":12.63,"c":12.83,"v":1650000,"m":12.55},
{"d":"2014-10-21","o":12.6,"h":12.85,"l":12.56,"c":12.8,"v":1150000,"m":12.65},
{"d":"2014-10-22","o":12.88,"h":13.03,"l":12.85,"c":12.99,"v":1300000,"m":12.77},
{"d":"2014-10-23","o":13.05,"h":13.22,"l":13.03,"c":13.18,"v":1550000,"m":12.88},
{"d":"2014-10-24","o":13.1,"h":13.42,"l":13.07,"c":13.38,"v":1500000,"m":12.98},
{"d":"2014-10-27","o":13.48,"h":13.51,"l":13.29,"c":13.32,"v":1000000,"m":13.06},
{"d":"2014-10-28","o":13.24,"h":13.44,"l":13.2,"c":13.4,"v":650000,"m":13.14},
{"d":"2014-10-30","o":13.45,"h":13.62,"l":13.42,"c":13.58,"v":1350000,"m":13.21},
{"d":"2014-10-31","o":13.7,"h":13.75,"l":13.47,"c":13.52,"v":1200000,"m":13.27},
{"d":"2014-11-03","o":13.65,"h":13.69,"l":13.51,"c":13.55,"v":1450000,"m":13.31},
{"d":"2014-11-04","o":13.68,"h":13.73,"l":13.33,"c":13.4,"v":1550000,"m":13.32},
{"d":"2014-11-05","o":13.52,"h":13.56,"l":13.42,"c":13.45,"v":1100000,"m":13.31},
{"d":"2014-11-06","o":13.15,"h":13.2,"l":12.8,"c":12.88,"v":2950000,"m":13.27},
{"d":"2014-11-07","o":13.09,"h":13.2,"l":13.07,"c":13.17,"v":700000,"m":13.24},
{"d":"2014-11-10","o":12.98,"h":13.25,"l":12.94,"c":13.2,"v":900000,"m":13.23},
{"d":"2014-11-11","o":13.16,"h":13.2,"l":12.91,"c":12.96,"v":800000,"m":13.22},
{"d":"2014-11-12","o":13.25,"h":13.29,"l":13.07,"c":13.1,"v":1750000,"m":13.2},
{"d":"2014-11-13","o":13.12,"h":13.16,"l":12.91,"c":12.96,"v":3200000,"m":13.18},
{"d":"2014-11-14","o":13.05,"h":13.2,"l":13.03,"c":13.17,"v":1450000,"m":13.16},
{"d":"2014-11-17","o":13.18,"h":13.33,"l":13.16,"c":13.3,"v":2600000,"m":13.16},
{"d":"2014-11-18","o":13.27,"h":13.47,"l":13.25,"c":13.43,"v":1900000,"m":13.21},
{"d":"2014-11-19","o":13.32,"h":13.56,"l":13.29,"c":13.52,"v":2400000,"m":13.29},
{"d":"2014-11-20","o":13.4,"h":13.73,"l":13.38,"c":13.68,"v":1550000,"m":13.37},
{"d":"2014-11-21","o":13.7,"h":13.84,"l":13.69,"c":13.8,"v":2050000,"m":13.46},
{"d":"2014-11-24","o":13.86,"h":14.13,"l":13.84,"c":14.08,"v":1650000,"m":13.54},
{"d":"2014-11-25","o":14.08,"h":14.11,"l":13.86,"c":13.92,"v":750000,"m":13.61},
{"d":"2014-11-26","o":14.12,"h":14.17,"l":13.95,"c":13.99,"v":1050000,"m":13.67},
{"d":"2014-11-27","o":13.98,"h":14.02,"l":13.8,"c":13.85,"v":900000,"m":13.72},
{"d":"2014-11-28","o":13.86,"h":14.57,"l":13.82,"c":14.2,"v":2350000,"m":13.77}
]},
"vconcat":[
{
 "width":1217,"height":490,
 "title":{"text":"ARCLK E \u00a0[2.1.2008 - 28.11.2014] \u00a0[14,20] \u00a0[Günlük]","anchor":"start","frame":"bounds","dx":27,"offset":6},
 "view":{"stroke":"#ffffff","strokeWidth":1},
 "data":{"name":"p"},
 "layer":[
  {"mark":{"type":"rule","color":"#e8a8a8","strokeWidth":1},
   "encoding":{"y":{"datum":14.08,"type":"quantitative","scale":{"domain":[8.28,14.78],"nice":false,"zero":false},
     "axis":{"orient":"left","domain":false,"tickSize":4,"labelPadding":2,"minExtent":60,"maxExtent":60,
      "values":[8.4,8.55,8.7,8.85,9,9.15,9.3,9.45,9.6,9.75,9.9,10.05,10.2,10.35,10.5,10.65,10.8,10.95,11.1,11.25,11.4,11.55,11.7,11.85,12,12.15,12.3,12.45,12.6,12.75,12.9,13.05,13.2,13.35,13.5,13.65,13.8,13.95,14.1,14.25,14.4,14.55,14.7],
      "labelExpr":"(round(datum.value*100)-840)%30===0 ? replace(format(datum.value,'.2f'),'.',',') : ''"}}}},
  {"mark":{"type":"rule","strokeWidth":1.3},
   "encoding":{
    "x":{"field":"d","type":"ordinal","axis":null,"scale":{"type":"point","padding":0.5,"domain":{"unionWith":["2014-12-01","2014-12-02","2014-12-03","2014-12-04","2014-12-05","2014-12-08","2014-12-09","2014-12-10","2014-12-11","2014-12-12","2014-12-15","2014-12-16","2014-12-17","2014-12-18","2014-12-19","2014-12-22","2014-12-23","2014-12-24","2014-12-25","2014-12-26","2014-12-29"]}}},
    "y":{"field":"l","type":"quantitative","axis":null},
    "y2":{"field":"h"},
    "color":{"condition":{"test":"datum.c >= datum.o","value":"#5ce05c"},"value":"#e03c3c"}}},
  {"mark":{"type":"tick","orient":"horizontal","size":2,"thickness":1,"xOffset":-1},
   "encoding":{
    "x":{"field":"d","type":"ordinal","axis":null},
    "y":{"field":"o","type":"quantitative","axis":null},
    "color":{"condition":{"test":"datum.c >= datum.o","value":"#5ce05c"},"value":"#e03c3c"}}},
  {"mark":{"type":"tick","orient":"horizontal","size":2,"thickness":1,"xOffset":1},
   "encoding":{
    "x":{"field":"d","type":"ordinal","axis":null},
    "y":{"field":"c","type":"quantitative","axis":null},
    "color":{"condition":{"test":"datum.c >= datum.o","value":"#5ce05c"},"value":"#e03c3c"}}},
  {"mark":{"type":"line","color":"#1414d8","strokeWidth":2.8,"interpolate":"monotone"},
   "encoding":{
    "x":{"field":"d","type":"ordinal","axis":null},
    "y":{"field":"m","type":"quantitative",
     "axis":{"orient":"right","domain":false,"tickSize":4,"labelPadding":3,"minExtent":60,"maxExtent":60,
      "values":[8.4,8.55,8.7,8.85,9,9.15,9.3,9.45,9.6,9.75,9.9,10.05,10.2,10.35,10.5,10.65,10.8,10.95,11.1,11.25,11.4,11.55,11.7,11.85,12,12.15,12.3,12.45,12.6,12.75,12.9,13.05,13.2,13.35,13.5,13.65,13.8,13.95,14.1,14.25,14.4,14.55,14.7],
      "labelExpr":"(round(datum.value*100)-840)%30===0 ? replace(format(datum.value,'.2f'),'.',',') : ''"}}}}
 ],
 "resolve":{"axis":{"y":"independent"}}
},
{
 "width":1217,"height":77,
 "data":{"name":"p"},
 "encoding":{"x":{"field":"d","type":"ordinal",
   "scale":{"type":"point","padding":0.5,"domain":{"unionWith":["2014-12-01","2014-12-02","2014-12-03","2014-12-04","2014-12-05","2014-12-08","2014-12-09","2014-12-10","2014-12-11","2014-12-12","2014-12-15","2014-12-16","2014-12-17","2014-12-18","2014-12-19","2014-12-22","2014-12-23","2014-12-24","2014-12-25","2014-12-26","2014-12-29"]}},
   "axis":{"orient":"bottom","domain":true,"domainColor":"#ffffff","tickSize":5,"labelAngle":-90,"labelFontSize":11,"labelPadding":2,"labelOverlap":false,"minExtent":42,"maxExtent":42,
    "values":["2013-05-02","2013-06-03","2013-07-01","2013-08-01","2013-09-02","2013-10-01","2013-11-01","2013-12-02","2014-01-02","2014-02-03","2014-03-03","2014-04-01","2014-05-02","2014-06-02","2014-07-01","2014-08-01","2014-09-01","2014-10-01","2014-11-03","2014-12-01"],
    "labelExpr":"['2014','Şub','Mar','Nis','May','Haz','Tem','Ağu','Eyl','Eki','Kas','Ara'][toNumber(substring(datum.value,5,7))-1]"}}},
 "layer":[
  {"mark":{"type":"rule","color":"#88e4d8","strokeWidth":1.2},
   "encoding":{"y":{"field":"v","type":"quantitative","scale":{"domain":[0,5670000],"nice":false},
     "axis":{"orient":"left","domain":false,"tickSize":4,"labelPadding":2,"minExtent":60,"maxExtent":60,"values":[0,1000000,2000000,3000000,4000000,5000000],
      "labelExpr":"datum.value % 2000000 === 1000000 ? format(datum.value,'d') : ''"}},
    "y2":{"datum":0}}},
  {"mark":{"type":"rule","strokeOpacity":0},
   "encoding":{"y":{"field":"v","type":"quantitative",
     "axis":{"orient":"right","domain":false,"tickSize":4,"labelPadding":3,"minExtent":60,"maxExtent":60,"values":[0,1000000,2000000,3000000,4000000,5000000],
      "labelExpr":"datum.value % 2000000 === 1000000 ? format(datum.value,'d') : ''"}},
    "y2":{"datum":0}}}
 ],
 "resolve":{"axis":{"y":"independent"}}
}
]
}
